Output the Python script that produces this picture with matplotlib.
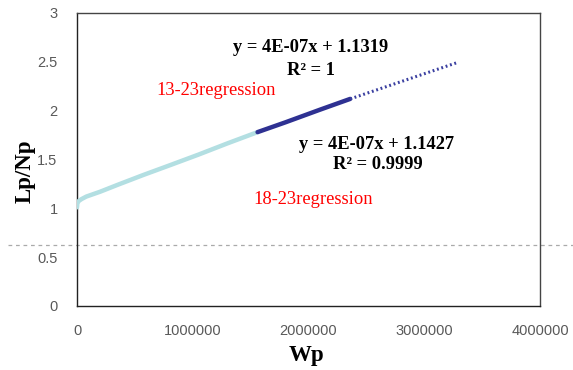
import matplotlib.pyplot as plt

# Cumulative water production vs. Lp/Np
wp_all = [0, 3000, 15000, 40000, 80000, 140000, 200000, 350000, 570000,
          800000, 1050000, 1300000, 1560000]
lpnp_all = [1.01, 1.05, 1.075, 1.095, 1.12, 1.145, 1.17, 1.24, 1.34,
            1.44, 1.55, 1.665, 1.78]

# Points used for the 18-23 regression
wp_fit = [1560000, 1800000, 2100000, 2360000]
lpnp_fit = [1.78, 1.88, 2.01, 2.12]

# Trend line extension
wp_trend = [2360000, 3280000]
lpnp_trend = [2.12, 2.49]

cutoff = 0.62

x_ticks = [0, 1000000, 2000000, 3000000, 4000000]
y_ticks = [0, 0.5, 1, 1.5, 2, 2.5, 3]

serif = ['Liberation Serif', 'DejaVu Serif']
sans = ['Liberation Sans', 'DejaVu Sans']

fig = plt.figure(figsize=(5.73, 3.70), dpi=100)
ax = fig.add_axes([0.1344, 0.173, 0.808, 0.792])

ax.plot(wp_all, lpnp_all, color='#b3dfe2', lw=3.2, solid_capstyle='round', zorder=3)
ax.plot(wp_fit, lpnp_fit, color='#2e3192', lw=3.2, solid_capstyle='round', zorder=4)
ax.plot(wp_trend, lpnp_trend, color='#3a3fa0', lw=2.2, linestyle=(0, (0.6, 0.9)), zorder=4)

# dashed cutoff across the whole figure
ax.axhline(cutoff, xmin=-0.149, xmax=1.071, color='#aaaaaa', lw=0.9,
           linestyle=(0, (3, 3)), clip_on=False, zorder=1)

ax.set_xlim(0, 4000000)
ax.set_ylim(0, 3)
ax.set_xticks(x_ticks)
ax.set_xticklabels([str(v) for v in x_ticks])
ax.set_yticks(y_ticks)
ax.set_yticklabels([('%g' % v) for v in y_ticks])
ax.tick_params(length=0, labelsize=10.5, labelcolor='#595959')
ax.tick_params(axis='y', pad=14)
ax.tick_params(axis='x', pad=13)
for lab in ax.get_xticklabels() + ax.get_yticklabels():
    lab.set_family(sans)

for side in ['left', 'bottom']:
    ax.spines[side].set_color('#222222')
for side in ['top', 'right']:
    ax.spines[side].set_color('#444444')
for s in ax.spines.values():
    s.set_linewidth(1.0)

ax.set_xlabel('Wp', fontsize=16.5, fontweight='bold', family=serif)
ax.set_ylabel('Lp/Np', fontsize=16.5, fontweight='bold', family=serif)
ax.xaxis.set_label_coords(0.495, -0.133)
ax.yaxis.set_label_coords(-0.09, 0.46)

eq_style = dict(fontsize=13.3, fontweight='bold', family=serif, ha='center', va='center')
ax.text(2022000, 2.65, 'y = 4E-07x + 1.1319', **eq_style)
ax.text(2022000, 2.415, 'R² = 1', **eq_style)
ax.text(2592000, 1.658, 'y = 4E-07x + 1.1427', **eq_style)
ax.text(2600000, 1.453, 'R² = 0.9999', **eq_style)

red_style = dict(fontsize=13.3, color='#ff0000', family=serif, ha='center', va='center')
ax.text(1201000, 2.21, '13-23regression', **red_style)
ax.text(2039000, 1.095, '18-23regression', **red_style)

fig.savefig('out.png', dpi=100)
